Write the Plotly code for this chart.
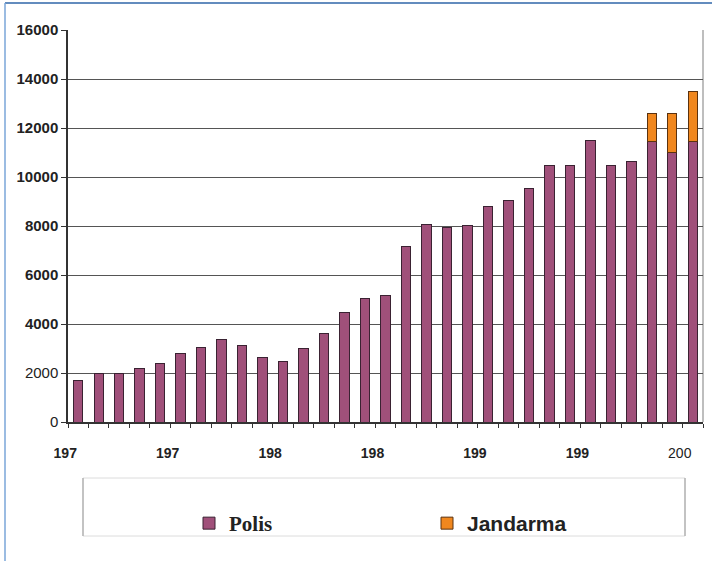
import plotly.graph_objects as go

years = list(range(1970, 2001))
polis = [1710, 1980, 1960, 2190, 2400, 2780, 3060, 3370, 3140, 2650, 2480, 3020,
         3620, 4490, 5050, 5170, 7170, 8080, 7950, 8040, 8780, 9060, 9540, 10490,
         10490, 11470, 10490, 10630, 11440, 10990, 11460]
jandarma = [None] * 28 + [1170, 1610, 2050]

x_tick_vals = [1970, 1975, 1980, 1985, 1990, 1995, 2000]
x_tick_text = ["<b>197</b>", "<b>197</b>", "<b>198</b>", "<b>198</b>", "<b>199</b>", "<b>199</b>", "200"]
y_tick_vals = [0, 2000, 4000, 6000, 8000, 10000, 12000, 14000, 16000]
y_tick_text = ["0", "2000", "<b>4000</b>", "<b>6000</b>", "<b>8000</b>", "<b>10000</b>",
               "<b>12000</b>", "<b>14000</b>", "<b>16000</b>"]

L, R, T, B = 68, 9, 30, 139
W, H = 712, 561
pw, ph = W - L - R, H - T - B

def px(x):
    return (x - L) / pw

def py(y):
    return (H - B - y) / ph

fig = go.Figure()
fig.add_trace(go.Bar(
    x=years, y=polis,
    name="<span style='font-family:Liberation Serif;font-size:21px'><b>Polis</b></span>",
    marker=dict(color="#A0507A", line=dict(color="#3a2232", width=1)),
))
fig.add_trace(go.Bar(
    x=years, y=jandarma,
    name="<span style='font-family:Liberation Sans;font-size:21px'><b>Jandarma</b></span>",
    marker=dict(color="#F0871E", line=dict(color="#5a3210", width=1)),
))

shapes = [
    dict(type="line", xref="paper", yref="paper", x0=px(5), x1=px(712), y0=py(3), y1=py(3),
         line=dict(color="#2f66a8", width=1.5)),
    dict(type="line", xref="paper", yref="paper", x0=px(5), x1=px(5), y0=py(3), y1=py(561),
         line=dict(color="#7aa6d8", width=1.5)),
    dict(type="line", xref="paper", yref="paper", x0=1, x1=1, y0=0, y1=1,
         line=dict(color="#a8a8a8", width=1.5), layer="below"),
    dict(type="rect", xref="paper", yref="paper", x0=px(83), x1=px(685), y0=py(478), y1=py(536),
         line=dict(color="#dcdcdc", width=1), fillcolor="white", layer="below"),
    dict(type="line", xref="paper", yref="paper", x0=px(83), x1=px(83), y0=py(478), y1=py(536),
         line=dict(color="#b4b4b4", width=1.5)),
    dict(type="line", xref="paper", yref="paper", x0=px(685), x1=px(685), y0=py(478), y1=py(536),
         line=dict(color="#b4b4b4", width=1.5)),
]

fig.update_layout(
    width=W, height=H,
    margin=dict(l=L, r=R, t=T, b=B),
    paper_bgcolor="white", plot_bgcolor="white",
    barmode="stack", bargap=0.54,
    font=dict(family="Liberation Sans", size=15, color="#222222"),
    shapes=shapes,
    showlegend=True,
    legend=dict(
        orientation="h", x=px(189), y=py(503), xanchor="left", yanchor="top",
        bgcolor="rgba(0,0,0,0)", borderwidth=0, traceorder="normal",
        entrywidth=193, entrywidthmode="pixels", valign="top",
        font=dict(size=21, color="#222222"),
    ),
    xaxis=dict(
        range=[1969.5, 2000.5],
        tickmode="array", tickvals=x_tick_vals, ticktext=x_tick_text,
        ticks="", ticklen=0, ticklabelshift=-13, ticklabelstandoff=17,
        showgrid=False, zeroline=False,
        showline=True, linecolor="#333333", linewidth=1.5,
        tickfont=dict(size=14, color="#222222"),
        minor=dict(tick0=1969.5, dtick=1, ticks="outside", ticklen=4,
                   tickcolor="#333333", tickwidth=1, showgrid=False),
    ),
    yaxis=dict(
        range=[0, 16000],
        tickmode="array", tickvals=y_tick_vals, ticktext=y_tick_text,
        ticks="outside", ticklen=5, tickcolor="#333333",
        showgrid=True, gridcolor="#555555", gridwidth=1,
        zeroline=False, showline=True, linecolor="#333333", linewidth=1.5,
        tickfont=dict(size=15, color="#222222"),
    ),
)

fig.write_html("out.html", post_script="document.body.style.margin='0';",
               config={"displayModeBar": False})
